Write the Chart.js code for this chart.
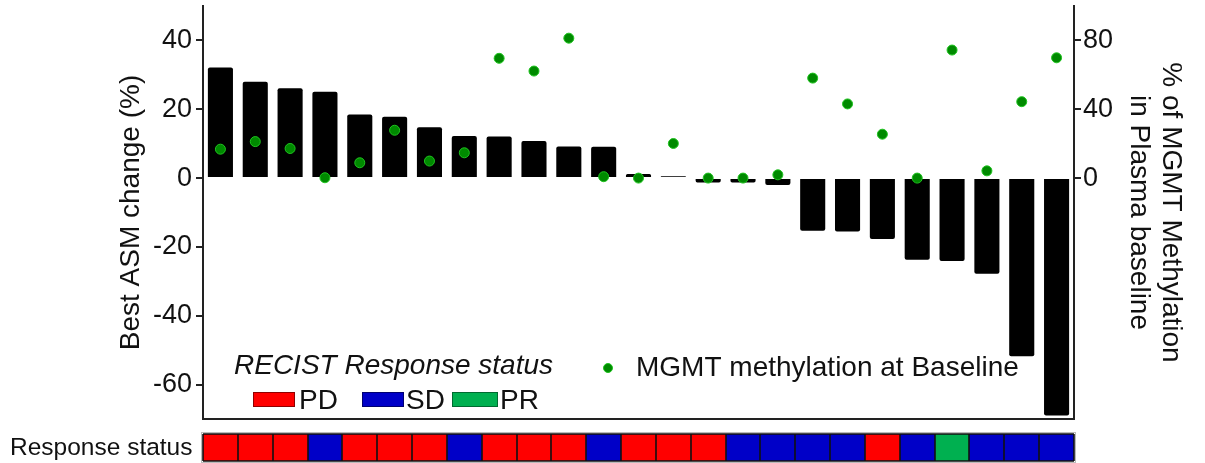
<!DOCTYPE html>
<html>
<head>
<meta charset="utf-8">
<script src="https://cdn.jsdelivr.net/npm/chart.js@4.4.1/dist/chart.umd.min.js"></script>
<style>
  html, body { margin: 0; padding: 0; background: #fff; }
  #wrap { width: 1205px; height: 463px; position: relative; }
</style>
</head>
<body>
<div id="wrap"><canvas id="chart"></canvas></div>
<script>
// one entry per patient, sorted by best ASM change
const patients = ['1','2','3','4','5','6','7','8','9','10','11','12','13',
  '14','15','16','17','18','19','20','21','22','23','24','25'];
const asmChange = [32.1, 28.0, 26.1, 25.1, 18.5, 17.8, 14.8, 12.2, 12.1, 10.8, 9.2, 9.1,
  1.2, 0.5, -1.3, -1.3, -2.0, -15.3, -15.5, -17.7, -23.7, -24.1, -27.8, -51.8, -69.0];
const mgmtMethylation = [16.8, 21.2, 17.2, 0.2, 8.9, 27.8, 9.9, 14.7, 69.6, 62.2, 81.3, 0.8,
  0, 20.1, 0, 0, 1.9, 58.1, 43.1, 25.5, 0, 74.4, 4.2, 44.4, 69.9];
const responseStatus = ['PD','PD','PD','SD','PD','PD','PD','SD','PD','PD','PD','SD','PD',
  'PD','PD','SD','SD','SD','SD','PD','SD','PR','SD','SD','SD'];

const leftTicks = [-60, -40, -20, 0, 20, 40];
const rightTicks = [0, 40, 80];
const statusNames = ['PD', 'SD', 'PR'];
const statusFill = { PD: '#ff0000', SD: '#0000c8', PR: '#00b050' };
const statusEdge = { PD: '#900000', SD: '#000070', PR: '#006a30' };

const FONT = "'Liberation Sans', Arial, sans-serif";
const INK = '#111';
Chart.defaults.font.family = FONT;
Chart.defaults.color = INK;

// legend block + response status strip under the plot
const extrasPlugin = {
  id: 'extras',
  afterDraw(chart) {
    const ctx = chart.ctx;
    const x = chart.scales.x;
    ctx.save();

    // strip: cell edges shared between neighbours so every border lands on one pixel
    const step = x.getPixelForValue(1) - x.getPixelForValue(0);
    const top = 434, h = 27;
    const edges = responseStatus.map((s, i) => Math.round(x.getPixelForValue(i) - step / 2));
    edges.push(Math.round(x.getPixelForValue(responseStatus.length - 1) + step / 2));
    const last = edges[edges.length - 1];
    responseStatus.forEach((s, i) => {
      ctx.fillStyle = statusFill[s];
      ctx.fillRect(edges[i], top, edges[i + 1] - edges[i], h);
    });
    ctx.strokeStyle = '#bbb';
    ctx.lineWidth = 1;
    ctx.strokeRect(edges[0] - 1.5, top - 1.5, last - edges[0] + 3, h + 3);
    ctx.strokeStyle = '#111';
    ctx.lineWidth = 1.6;
    ctx.beginPath();
    edges.forEach(e => {
      ctx.moveTo(e, top);
      ctx.lineTo(e, top + h);
    });
    ctx.moveTo(edges[0], top);
    ctx.lineTo(last, top);
    ctx.moveTo(edges[0], top + h);
    ctx.lineTo(last, top + h);
    ctx.stroke();

    ctx.fillStyle = INK;
    ctx.font = '24.5px ' + FONT;
    ctx.textAlign = 'left';
    ctx.textBaseline = 'middle';
    ctx.fillText('Response status', 10, 448);

    // RECIST legend
    ctx.font = 'italic 28px ' + FONT;
    ctx.fillText('RECIST Response status', 234, 366);
    const boxes = [
      { bx: 253, bw: 42, tx: 299 },
      { bx: 362, bw: 42, tx: 406 },
      { bx: 452, bw: 46, tx: 500 }
    ];
    ctx.font = '28px ' + FONT;
    statusNames.forEach((n, i) => {
      const b = boxes[i];
      ctx.fillStyle = statusFill[n];
      ctx.fillRect(b.bx, 392, b.bw, 15);
      ctx.strokeStyle = statusEdge[n];
      ctx.lineWidth = 1;
      ctx.strokeRect(b.bx + 0.5, 392.5, b.bw - 1, 14);
      ctx.fillStyle = INK;
      ctx.fillText(n, b.tx, 401);
    });

    // dot legend
    ctx.beginPath();
    ctx.arc(608, 368, 4.5, 0, Math.PI * 2);
    ctx.fillStyle = '#008a00';
    ctx.fill();
    ctx.strokeStyle = '#1fc41f';
    ctx.stroke();
    ctx.fillStyle = INK;
    ctx.fillText('MGMT methylation at Baseline', 636, 368);
    ctx.restore();
  }
};

function noPad(s) {
  s.paddingTop = 0;
  s.paddingBottom = 0;
}

new Chart(document.getElementById('chart'), {
  data: {
    labels: patients,
    datasets: [
      {
        type: 'line',
        label: 'MGMT methylation at Baseline',
        data: mgmtMethylation,
        yAxisID: 'y2',
        showLine: false,
        pointRadius: 5,
        pointBackgroundColor: '#008a00',
        pointBorderColor: '#1fc41f',
        pointBorderWidth: 1,
        clip: false,
        order: 0
      },
      {
        type: 'bar',
        label: 'Best ASM change',
        data: asmChange,
        yAxisID: 'y',
        backgroundColor: '#000',
        borderRadius: 2,
        barPercentage: 0.72,
        categoryPercentage: 1.0,
        order: 1
      }
    ]
  },
  options: {
    responsive: true,
    maintainAspectRatio: false,
    animation: false,
    layout: { padding: { top: 4, bottom: 44, left: 0, right: 0 } },
    plugins: { legend: { display: false }, tooltip: { enabled: false } },
    scales: {
      x: {
        grid: { display: false, drawTicks: false },
        ticks: { display: false },
        border: { display: true, color: '#222', width: 2 },
        afterFit(s) { s.height = 0; s.paddingLeft = 0; s.paddingRight = 0; }
      },
      y: {
        position: 'left',
        min: -70,
        max: 50,
        afterBuildTicks(s) { s.ticks = leftTicks.map(v => ({ value: v })); },
        afterFit(s) { s.width = 203; noPad(s); },
        grid: { drawOnChartArea: false, tickLength: 7, tickColor: '#222', lineWidth: 2 },
        border: { color: '#222', width: 2 },
        ticks: { font: { size: 27 }, color: INK, padding: 4 },
        title: {
          display: true,
          text: 'Best ASM change (%)',
          font: { size: 28 },
          color: INK,
          padding: { top: 114, bottom: 0 }
        }
      },
      y2: {
        position: 'right',
        min: -140,
        max: 100,
        afterBuildTicks(s) { s.ticks = rightTicks.map(v => ({ value: v })); },
        afterFit(s) { s.width = 131; noPad(s); },
        grid: { drawOnChartArea: false, tickLength: 7, tickColor: '#222', lineWidth: 2 },
        border: { color: '#222', width: 2 },
        ticks: { font: { size: 27 }, color: INK, padding: 2 },
        title: {
          display: true,
          text: ['% of MGMT Methylation', 'in Plasma baseline'],
          font: { size: 28, lineHeight: 1.12 },
          color: INK,
          padding: { top: 19, bottom: 0 }
        }
      }
    }
  },
  plugins: [extrasPlugin]
});
</script>
</body>
</html>
